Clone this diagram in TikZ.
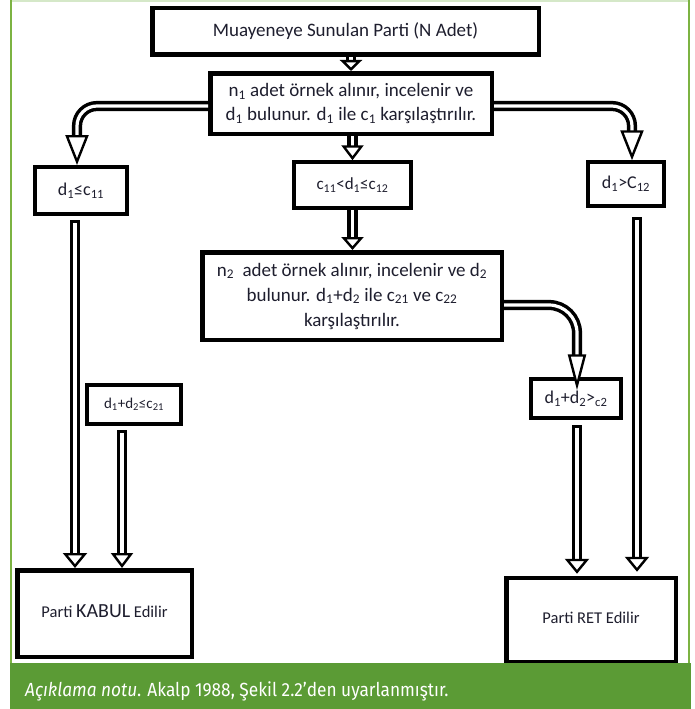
\documentclass[tikz,border=0pt]{standalone}
\usepackage{fontspec}
\setmainfont{Carlito}
\newfontfamily\capfont[FakeStretch=0.91]{Fira Sans}
\usetikzlibrary{arrows.meta,backgrounds}
\definecolor{frameg}{HTML}{7CB342}
\definecolor{footg}{HTML}{5B9B35}
\definecolor{paleg}{HTML}{D5E8C8}
\definecolor{txt}{HTML}{1E1E2E}
\newcommand{\sbx}[1]{\textsubscript{#1}}
\begin{document}
\begin{tikzpicture}[x=1pt,y=-1pt,
  box/.style={draw=black, line width=4.5pt, fill=white, inner sep=0pt, align=center,
    text=txt, font=\fontsize{19}{24}\selectfont},
  sbox/.style={box, line width=4pt, font=\fontsize{18}{22}\selectfont},
  dbl/.style={draw=black, line width=3.5pt, double=white, double distance=3.2pt},
  hd/.style 2 args={-{Triangle[length=#1, width=#2, fill=white, line width=2.4pt]}},
  captxt/.style={anchor=base west, text=white, inner sep=0pt, font=\capfont\fontsize{19}{22}\selectfont}
]
\useasboundingbox (0,0) rectangle (695,709);
\fill[white] (0,0) rectangle (695,709);
% frame
\draw[paleg, line width=1.5pt] (11,1) -- (689,1);
\draw[frameg, line width=1.5pt] (11,0) -- (11,664);
\draw[frameg, line width=1.5pt] (689,0) -- (689,664);

% nodes
\node[box, minimum width=386.5pt, minimum height=46.5pt] (top) at (345.5,31.5) {Muayeneye Sunulan Parti (N Adet)};
\node[box, minimum width=281.5pt, minimum height=60.5pt] (b2) at (351,103.5)
  {n\sbx{1} adet örnek alınır, incelenir ve\\ d\sbx{1} bulunur. d\sbx{1} ile c\sbx{1} karşılaştırılır.};
\node[sbox, minimum width=91.5pt, minimum height=47pt] (bl) at (81,190.5) {d\sbx{1}≤c\sbx{11}};
\node[sbox, minimum width=116.5pt, minimum height=45.5pt, font=\fontsize{17}{20}\selectfont] (bm) at (352.5,185) {c\sbx{11}<d\sbx{1}≤c\sbx{12}};
\node[sbox, minimum width=75.5pt, minimum height=43.5pt] (br) at (626,184) {d\sbx{1}>C\sbx{12}};
\node[box, minimum width=299.5pt, minimum height=87.5pt, font=\fontsize{19}{25}\selectfont] (n2) at (352,296)
  {n\sbx{2}\ \ adet örnek alınır, incelenir ve d\sbx{2}\\ bulunur. d\sbx{1}+d\sbx{2} ile c\sbx{21} ve c\sbx{22}\\ karşılaştırılır.};
\node[sbox, minimum width=93.5pt, minimum height=38.5pt, font=\fontsize{15}{18}\selectfont] (cl) at (134,404.5) {d\sbx{1}+d\sbx{2}≤c\sbx{21}};
\node[sbox, minimum width=89.5pt, minimum height=38.5pt] (cr) at (576,398.5) {d\sbx{1}+d\sbx{2}>\sbx{c2}};
\node[box, minimum width=174.5pt, minimum height=86.5pt, font=\fontsize{16.5}{20}\selectfont] (kabul) at (104.5,613.5)
  {\raisebox{5pt}{Parti {\fontsize{20}{24}\selectfont KABUL} Edilir}};
\node[box, minimum width=169.5pt, minimum height=84pt, font=\fontsize{16.5}{20}\selectfont] (ret) at (591,620)
  {\raisebox{5pt}{Parti RET Edilir}};

% connectors
\draw[dbl, hd={11pt}{22pt}] (top.south -| b2.north) -- (b2.north);
\draw[dbl, hd={15pt}{22pt}] (b2.south -| bm.north) -- (bm.north);
\draw[dbl, hd={30pt}{23pt}, rounded corners=20pt] ([yshift=-2.5pt]b2.west) -| ([xshift=-4pt]bl.north);
\draw[dbl, hd={30pt}{23pt}, rounded corners=20pt] ([yshift=-2.5pt]b2.east) -| ([xshift=6pt]br.north);
\draw[dbl, hd={13pt}{22pt}] (bm.south) -- (bm.south |- n2.north);
\begin{scope}[on background layer]
\draw[dbl, hd={15pt}{22pt}, rounded corners=24pt] ([yshift=-12pt]n2.west) -| ([xshift=-12pt,yshift=-10pt]cl.north);
\end{scope}
\draw[dbl, hd={36pt}{18pt}, rounded corners=28pt] ([yshift=-9pt]n2.east) -| ([xshift=1pt,yshift=-13pt]cr.north);
\draw[dbl, line cap=rect, hd={15pt}{24pt}] ([xshift=-6pt,yshift=-9pt]bl.south) -- ([xshift=-6pt]bl.south |- kabul.north);
\draw[dbl, line cap=rect, hd={15pt}{22pt}] ([xshift=-12pt,yshift=-9pt]cl.south) -- ([xshift=-12pt]cl.south |- kabul.north);
\draw[dbl, line cap=rect, hd={15pt}{24pt}] ([xshift=1pt,yshift=-10pt]cr.south) -- ([xshift=1pt,yshift=2pt]cr.south |- ret.north);
\draw[dbl, line cap=rect, hd={15pt}{24pt}] ([xshift=11pt,yshift=-14pt]br.south) -- ([xshift=11pt,yshift=4pt]br.south |- ret.north);

% footer
\fill[footg] (10,663) rectangle (691,709);
\node[captxt] (cap) at (25,696) {\textit{Açıklama notu}. Akalp 1988, Şekil 2.2’den uyarlanmıştır.};
\end{tikzpicture}
\end{document}
